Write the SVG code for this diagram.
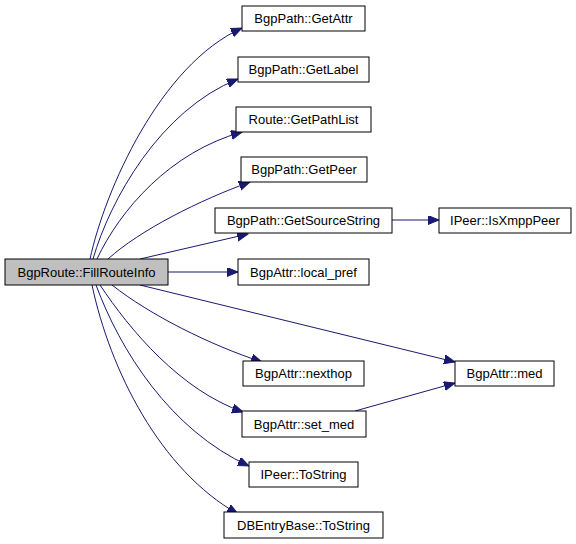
<svg xmlns="http://www.w3.org/2000/svg" width="576" height="544" viewBox="0 0 576 544">
<style>
.n rect{fill:#fff;stroke:#000;stroke-width:1}
.root rect{fill:#bfbfbf}
.n text{font-family:"Liberation Sans",Arial,sans-serif;font-size:13px;text-anchor:middle;fill:#000}
.e path{fill:none;stroke:#191970;stroke-width:1;marker-end:url(#ah)}
</style>
<defs>
<marker id="ah" markerUnits="userSpaceOnUse" markerWidth="13" markerHeight="10" refX="11" refY="4.5" orient="auto">
<path d="M0,0 L11,4.5 L0,9 z" fill="#191970" stroke="#191970"/>
</marker>
</defs>
<rect width="576" height="544" fill="#fff"/>
<g id="edges" class="e">
<path d="M90,259 C105,190 160,65 242,28"/>
<path d="M93,259 C110,200 160,110 238,79"/>
<path d="M97,259 C120,210 170,152 242,132"/>
<path d="M108,259 C140,230 200,200 250,182"/>
<path d="M140,259 L248,234"/>
<path d="M168,272 L238,272"/>
<path d="M112,285 C150,315 210,345 262,362"/>
<path d="M140,285 L455,362"/>
<path d="M100,285 C130,330 180,390 243,412"/>
<path d="M96,285 C120,350 170,430 249,466"/>
<path d="M92,285 C110,370 160,470 238,514"/>
<path d="M392,220 L439,220"/>
<path d="M355,411 L455,383"/>
</g>
<g id="n0" class="n root"><rect x="5" y="259" width="163" height="26"/><text x="86.5" y="277">BgpRoute::FillRouteInfo</text></g>
<g id="n1" class="n"><rect x="242" y="6" width="123" height="25"/><text x="303.5" y="23">BgpPath::GetAttr</text></g>
<g id="n2" class="n"><rect x="238" y="57" width="131" height="25"/><text x="303.5" y="74">BgpPath::GetLabel</text></g>
<g id="n3" class="n"><rect x="236" y="107" width="135" height="25"/><text x="303.5" y="124">Route::GetPathList</text></g>
<g id="n4" class="n"><rect x="241" y="157" width="126" height="25"/><text x="304" y="174">BgpPath::GetPeer</text></g>
<g id="n5" class="n"><rect x="215" y="208" width="177" height="25"/><text x="303.5" y="225">BgpPath::GetSourceString</text></g>
<g id="n6" class="n"><rect x="439" y="208" width="132" height="25"/><text x="505" y="225">IPeer::IsXmppPeer</text></g>
<g id="n7" class="n"><rect x="238" y="259" width="131" height="26"/><text x="303.5" y="277">BgpAttr::local_pref</text></g>
<g id="n8" class="n"><rect x="243" y="361" width="121" height="25"/><text x="303.5" y="378">BgpAttr::nexthop</text></g>
<g id="n9" class="n"><rect x="455" y="361" width="99" height="25"/><text x="504.5" y="378">BgpAttr::med</text></g>
<g id="n10" class="n"><rect x="242" y="411" width="124" height="26"/><text x="304" y="429">BgpAttr::set_med</text></g>
<g id="n11" class="n"><rect x="249" y="462" width="109" height="25"/><text x="303.5" y="479">IPeer::ToString</text></g>
<g id="n12" class="n"><rect x="224" y="512" width="159" height="26"/><text x="303.5" y="530">DBEntryBase::ToString</text></g>
</svg>
